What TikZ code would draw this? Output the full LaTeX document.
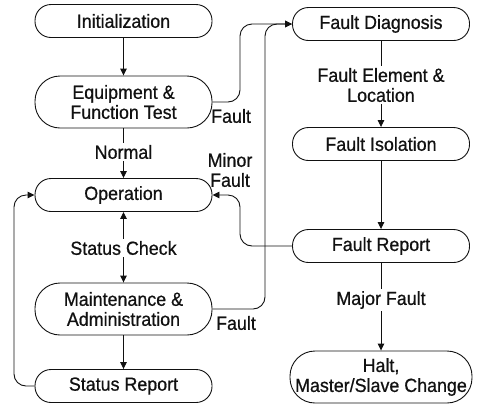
\documentclass[tikz,border=0pt]{standalone}
\usepackage{fontspec}
\setmainfont{Liberation Sans}[FakeStretch=0.94, FakeBold=0.7]
\usetikzlibrary{arrows.meta,calc}
\definecolor{ink}{HTML}{111111}
\tikzset{
  >={Triangle[length=7pt,width=6.5pt]},
  stage/.style={draw=ink, line width=0.9pt, rounded corners=16pt, minimum width=177pt, minimum height=33pt,
                inner sep=0pt, font=\fontsize{19}{20}\selectfont, text=ink, align=center},
  stagetwo/.style={stage, rounded corners=25pt, minimum height=52pt},
  lab/.style={font=\fontsize{19}{20}\selectfont, text=ink, inner sep=2pt, align=center},
  flow/.style={->, line width=0.9pt, draw=ink},
  wire/.style={line width=0.9pt, draw=ink},
  loopline/.style={flow, rounded corners=12pt},
}

\begin{document}
\begin{tikzpicture}[x=1pt, y=-1pt]
  \useasboundingbox (0,0) rectangle (478,405);
  % left column
  \node[stage] (init) at (123.5,21) {Initialization};
  \node[stagetwo] (equip) at (123.5,102) {Equipment \&\\Function Test};
  \node[stage] (oper) at (123.5,195) {Operation};
  \node[stagetwo] (maint) at (123.5,309) {Maintenance \&\\Administration};
  \node[stage] (statrep) at (123.5,386) {Status Report};
  % right column
  \node[stage] (diag) at (381,24) {Fault Diagnosis};
  \node[stage] (isol) at (381,144) {Fault Isolation};
  \node[stage] (frep) at (381,246) {Fault Report};
  \node[stagetwo, minimum width=182pt] (halt) at (381,377) {Halt,\\Master/Slave Change};
  % edge texts
  \node[lab] (normal) at (123.5,152) {Normal};
  \node[lab] (statchk) at (123.5,248) {Status Check};
  \node[lab] (felem) at (381,85) {Fault Element \&\\Location};
  \node[lab] (major) at (381,300) {Major Fault};
  \node[lab, anchor=west] (faultA) at (209,116) {Fault};
  \node[lab] (minor) at (230,170) {Minor\\Fault};
  \node[lab] (faultB) at (236,323) {Fault};
  % bus lines
  \coordinate (busA) at (240,0);
  \coordinate (busB) at (265,0);
  \coordinate (busC) at (14,0);
  \draw[flow] (init) -- (equip);
  \draw[wire] (equip) -- (normal);
  \draw[flow] (normal) -- (oper);
  \draw[flow] (statchk) -- (oper);
  \draw[flow] (statchk) -- (maint);
  \draw[flow] (maint) -- (statrep);
  \draw[wire] (diag) -- (felem);
  \draw[flow] (felem) -- (isol);
  \draw[flow] (isol) -- (frep);
  \draw[wire] (frep) -- (major);
  \draw[flow] (major) -- (halt);
  \draw[loopline] (equip.east) -| (busA |- diag.west) -- (diag.west);
  \draw[loopline] (maint.east) -| (busB |- diag.west) -- (diag.west);
  \draw[loopline] (frep.west) -| (busA |- oper.east) -- (oper.east);
  \draw[loopline] (statrep.west) -| (busC |- oper.west) -- (oper.west);
\end{tikzpicture}
\end{document}
